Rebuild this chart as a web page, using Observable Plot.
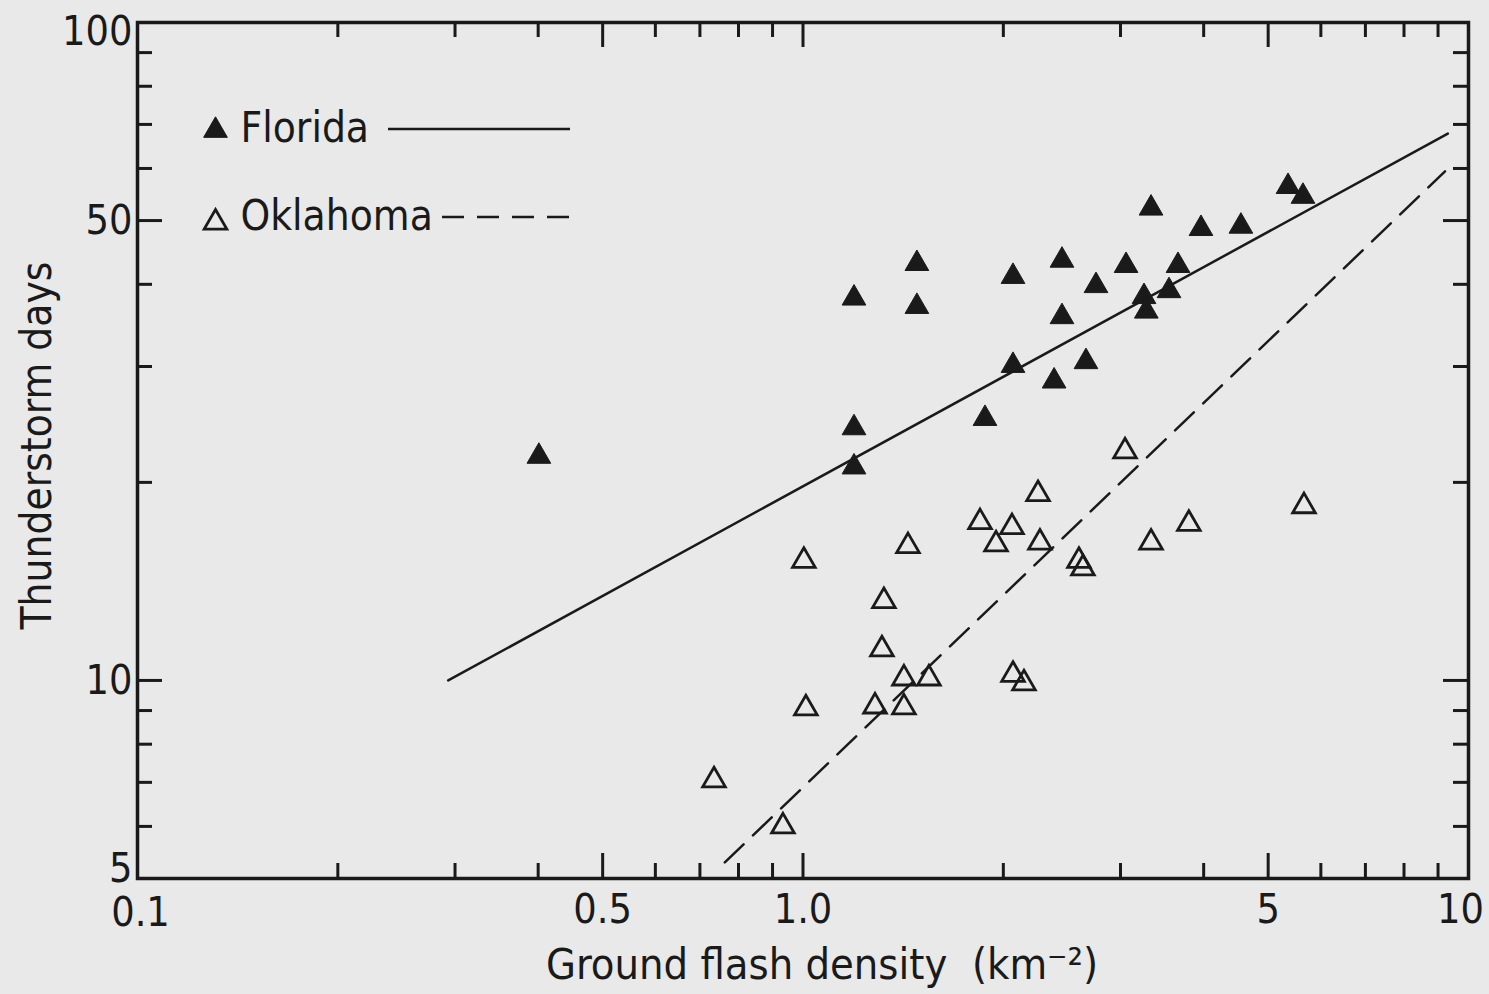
<!DOCTYPE html>
<html>
<head>
<meta charset="utf-8">
<script src="https://cdn.jsdelivr.net/npm/d3@7"></script>
<script src="https://cdn.jsdelivr.net/npm/@observablehq/plot@0.6"></script>
<style>
html, body { margin: 0; padding: 0; background: #e9e9e9; }
#chart svg { display: block; overflow: visible; }
</style>
</head>
<body>
<div id="chart"></div>
<script>
// ---- data ----
const floridaX = [0.401, 1.193, 1.193, 1.193, 1.483, 1.483, 1.877, 2.068, 2.068, 2.384, 2.45, 2.45, 2.662, 2.756, 3.058, 3.334, 3.254, 3.28, 3.548, 3.66, 3.963, 4.55, 5.356, 5.64];
const floridaY = [21.9, 38.1, 24.2, 21.1, 43.0, 37.0, 25.0, 41.1, 30.1, 28.5, 43.5, 35.7, 30.5, 39.8, 42.7, 52.2, 38.3, 36.4, 39.1, 42.7, 48.6, 49.0, 56.3, 54.4];
const oklahomaX = [0.735, 0.933, 1.003, 1.01, 1.283, 1.418, 1.314, 1.323, 1.418, 1.546, 1.438, 1.845, 1.95, 2.061, 2.068, 2.148, 2.255, 2.27, 2.598, 2.634, 3.047, 3.334, 3.80, 5.66];
const oklahomaY = [7.05, 6.00, 15.2, 9.07, 9.13, 9.10, 11.15, 13.2, 10.07, 10.07, 16.0, 17.4, 16.1, 17.1, 10.2, 9.9, 19.2, 16.2, 15.2, 14.8, 22.3, 16.2, 17.3, 18.4];
const floridaFitX = [0.293, 9.31];
const floridaFitY = [10.0, 67.8];
const oklahomaFitX = [0.763, 9.22];
const oklahomaFitY = [5.29, 59.4];

const xTicks = [0.1, 0.5, 1, 5, 10];
const xTickLabels = ["0.1", "0.5", "1.0", "5", "10"];
const xMajorInner = [0.5, 1, 5];
const xMinor = [0.2, 0.3, 0.4, 0.6, 0.7, 0.8, 0.9, 2, 3, 4, 6, 7, 8, 9];
const yTicks = [5, 10, 50, 100];
const yTickLabels = ["5", "10", "50", "100"];
const yMajorInner = [10, 50];
const yMinor = [6, 7, 8, 9, 20, 30, 40, 60, 70, 80, 90];

const seriesNames = ["Florida", "Oklahoma"];
const xTitle = "Ground flash density  (km\u207B\u00B2)";
const yTitle = "Thunderstorm days";

// ---- layout ----
const W = 1489, H = 994;
const mL = 137, mR = 21, mT = 22, mB = 116;
const innerW = W - mL - mR, innerH = H - mT - mB;
const ink = "#1a1a1a";
const FONT = "'Liberation Sans Narrow', 'DejaVu Sans Condensed', 'DejaVu Sans', sans-serif";
const minorLen = 15, majorLen = 25;
const tickFont = 41;

const florida = floridaX.map((x, i) => ({x, y: floridaY[i]}));
const oklahoma = oklahomaX.map((x, i) => ({x, y: oklahomaY[i]}));
const floridaFit = floridaFitX.map((x, i) => ({x, y: floridaFitY[i]}));
const oklahomaFit = oklahomaFitX.map((x, i) => ({x, y: oklahomaFitY[i]}));

const tickStyle = {stroke: ink, strokeWidth: 3};
const xFmt = d => xTickLabels[xTicks.indexOf(d)];
const yFmt = d => yTickLabels[yTicks.indexOf(d)];
const xAxisOpts = {tickFormat: xFmt, tickSize: 0, tickPadding: 15, label: null, fontSize: tickFont, fill: ink};
const yAxisOpts = {tickFormat: yFmt, tickSize: 0, tickPadding: 5, label: null, fontSize: tickFont, fill: ink};

const plot = Plot.plot({
  width: W,
  height: H,
  marginLeft: mL,
  marginRight: mR,
  marginTop: mT,
  marginBottom: mB,
  style: {background: "#e9e9e9", color: ink, fontFamily: FONT, fontSize: "41px"},
  x: {type: "log", domain: [0.1, 10]},
  y: {type: "log", domain: [5, 100]},
  marks: [
    // inward ticks, bottom & top
    Plot.tickX(xMinor, {x: d => d, insetTop: innerH - minorLen, ...tickStyle}),
    Plot.tickX(xMajorInner, {x: d => d, insetTop: innerH - majorLen, ...tickStyle}),
    Plot.tickX(xMinor, {x: d => d, insetBottom: innerH - minorLen, ...tickStyle}),
    Plot.tickX(xMajorInner, {x: d => d, insetBottom: innerH - majorLen, ...tickStyle}),
    // inward ticks, left & right
    Plot.tickY(yMinor, {y: d => d, insetRight: innerW - minorLen, ...tickStyle}),
    Plot.tickY(yMajorInner, {y: d => d, insetRight: innerW - majorLen, ...tickStyle}),
    Plot.tickY(yMinor, {y: d => d, insetLeft: innerW - minorLen, ...tickStyle}),
    Plot.tickY(yMajorInner, {y: d => d, insetLeft: innerW - majorLen, ...tickStyle}),
    Plot.frame({stroke: ink, strokeWidth: 3.5}),
    // tick labels
    Plot.axisX(xTicks.slice(0, 1), {...xAxisOpts, tickPadding: 18, dx: 3}),
    Plot.axisX(xTicks.slice(1, 4), xAxisOpts),
    Plot.axisX(xTicks.slice(4), {...xAxisOpts, dx: -8}),
    Plot.axisY(yTicks.slice(0, 1), {...yAxisOpts, dy: -10}),
    Plot.axisY(yTicks.slice(1, 3), yAxisOpts),
    Plot.axisY(yTicks.slice(3), {...yAxisOpts, dy: 9}),
    // fitted lines
    Plot.line(floridaFit, {x: "x", y: "y", stroke: ink, strokeWidth: 2.5}),
    Plot.line(oklahomaFit, {x: "x", y: "y", stroke: ink, strokeWidth: 2.5, strokeDasharray: "26,13"}),
    // data points
    Plot.dot(florida, {x: "x", y: "y", symbol: "triangle", r: 8.8, fill: ink, stroke: ink, strokeWidth: 1}),
    Plot.dot(oklahoma, {x: "x", y: "y", symbol: "triangle", r: 8.4, fill: "none", stroke: ink, strokeWidth: 2.8}),
    // axis titles
    Plot.text([xTitle], {text: d => d, frameAnchor: "bottom", textAnchor: "middle", dx: 19, dy: 87, lineAnchor: "middle", fontSize: 43, fill: ink, style: "letter-spacing:1px"}),
    Plot.text([yTitle], {text: d => d, frameAnchor: "left", textAnchor: "middle", dx: -100, dy: -5, rotate: -90, lineAnchor: "middle", fontSize: 42, fill: ink}),
    // legend
    Plot.dot([seriesNames[0]], {frameAnchor: "top-left", dx: 215 - mL, dy: 130 - mT, symbol: "triangle", r: 8.8, fill: ink, stroke: ink, strokeWidth: 1}),
    Plot.dot([seriesNames[1]], {frameAnchor: "top-left", dx: 215 - mL, dy: 222 - mT, symbol: "triangle", r: 8.4, fill: "none", stroke: ink, strokeWidth: 2.8}),
    Plot.text([seriesNames[0]], {text: d => d, frameAnchor: "top-left", dx: 240 - mL, dy: 128 - mT, textAnchor: "start", lineAnchor: "middle", fontSize: 42, fill: ink}),
    Plot.text([seriesNames[1]], {text: d => d, frameAnchor: "top-left", dx: 240 - mL, dy: 216 - mT, textAnchor: "start", lineAnchor: "middle", fontSize: 42, fill: ink})
  ]
});

// legend line samples
const svg = d3.select(plot);
svg.append("line").attr("x1", 388).attr("x2", 570).attr("y1", 129).attr("y2", 129)
  .attr("stroke", ink).attr("stroke-width", 2.5);
svg.append("line").attr("x1", 442).attr("x2", 572).attr("y1", 217).attr("y2", 217)
  .attr("stroke", ink).attr("stroke-width", 2.5).attr("stroke-dasharray", "22,13");

document.getElementById("chart").appendChild(plot);
</script>
</body>
</html>
